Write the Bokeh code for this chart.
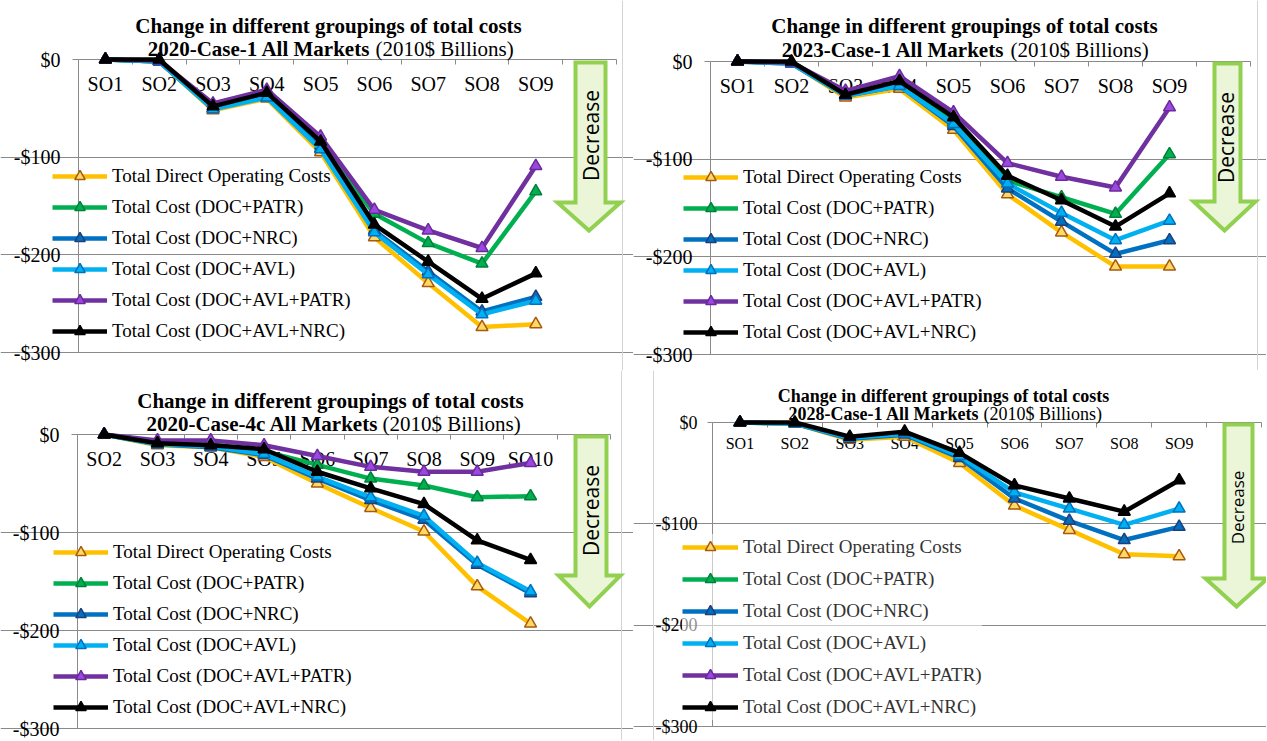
import math
from bokeh.plotting import figure
from bokeh.layouts import column, row
from bokeh.models import FixedTicker, Legend, LegendItem, Label, PolyAnnotation, Span
from bokeh.embed import file_html
from bokeh.resources import INLINE

# ---------------- data ----------------
series_names = [
    "Total Direct Operating Costs",
    "Total Cost (DOC+PATR)",
    "Total Cost (DOC+NRC)",
    "Total Cost (DOC+AVL)",
    "Total Cost (DOC+AVL+PATR)",
    "Total Cost (DOC+AVL+NRC)",
]
y_ticks = [-300, -200, -100, 0]
y_tick_labels = ["-$300", "-$200", "-$100", "$0"]
NAN = float("nan")

# Panel 1: 2020-Case-1 All Markets
cats_1 = ["SO1", "SO2", "SO3", "SO4", "SO5", "SO6", "SO7", "SO8", "SO9"]
p1_doc = [0, -2, -52, -40, -95, -182, -229, -274, -271]
p1_patr = [0, -2, -50, -37, -88, -158, -188, -209, -135]
p1_nrc = [0, -2, -50, -38, -91, -175, -217, -258, -243]
p1_avl = [0, -2, -51, -39, -92, -177, -220, -261, -247]
p1_avl_patr = [0, -1, -45, -31, -79, -154, -175, -193, -109]
p1_avl_nrc = [0, 0, -48, -34, -84, -169, -207, -245, -219]

# Panel 2: 2023-Case-1 All Markets
cats_2 = ["SO1", "SO2", "SO3", "SO4", "SO5", "SO6", "SO7", "SO8", "SO9"]
p2_doc = [0, -2, -37, -28, -70, -136, -175, -210, -210]
p2_patr = [0, -1, -34, -24, -62, -122, -139, -156, -95]
p2_nrc = [0, -2, -35, -25, -66, -130, -164, -197, -183]
p2_avl = [0, -2, -35, -25, -64, -125, -155, -183, -163]
p2_avl_patr = [0, -1, -30, -15, -52, -104, -118, -129, -47]
p2_avl_nrc = [0, 0, -34, -20, -57, -117, -142, -169, -135]

# Panel 3: 2020-Case-4c All Markets
cats_3 = ["SO2", "SO3", "SO4", "SO5", "SO6", "SO7", "SO8", "SO9", "SO10"]
p3_doc = [0, -11, -13, -23, -50, -75, -99, -155, -193]
p3_patr = [0, -8, -10, -17, -31, -45, -52, -64, -63]
p3_nrc = [0, -10, -13, -21, -45, -67, -87, -133, -162]
p3_avl = [0, -10, -12, -20, -43, -64, -83, -131, -160]
p3_avl_patr = [0, -6, -6, -11, -22, -33, -38, -38, -29]
p3_avl_nrc = [0, -9, -11, -15, -38, -55, -71, -108, -128]

# Panel 4: 2028-Case-1 All Markets (PATR series not plotted in the source)
cats_4 = ["SO1", "SO2", "SO3", "SO4", "SO5", "SO6", "SO7", "SO8", "SO9"]
p4_doc = [0, -1, -17, -14, -40, -82, -106, -130, -132]
p4_patr = [NAN] * 9
p4_nrc = [0, -1, -16, -12, -35, -75, -97, -116, -103]
p4_avl = [0, -1, -15, -11, -33, -69, -85, -101, -85]
p4_avl_patr = [NAN] * 9
p4_avl_nrc = [0, 0, -14, -9, -30, -62, -75, -88, -57]

# ---------------- styles ----------------
LINE_COLORS = ["#FFC000", "#00B050", "#0070C0", "#00B0F0", "#7030A0", "#000000"]
MARK_FILL = ["#FFD966", "#00B050", "#0070C0", "#00B0F0", "#9A48E0", "#000000"]
MARK_LINE = ["#A8590C", "#00803A", "#1F3F7A", "#0070C0", "#6A2A9A", "#000000"]
GRID = "#8A8A8A"
SERIF = "Liberation Serif"


def make_panel(cats, series, case_text, cfg):
    W, H = cfg["w"], cfg["h"]
    L, T, FW, FH = cfg["plot"]          # plot area inside the canvas (px)
    slot = FW / 10.0
    upp = 300.0 / FH                    # value units per pixel
    x0 = 0.5 - L / slot
    x1 = 10.5 + (W - L - FW) / slot
    y1 = T * upp
    y0 = -300.0 - (H - T - FH) * upp

    def dx(px):
        return x0 + px / W * (x1 - x0)

    def dy(py):
        return y1 - py / H * (y1 - y0)

    p = figure(width=W, height=H, x_range=(x0, x1), y_range=(y0, y1),
               x_axis_location="above", output_backend="svg", toolbar_location=None,
               min_border_left=0, min_border_right=0, min_border_top=0, min_border_bottom=0,
               min_border=0)
    p.outline_line_color = None
    p.background_fill_color = "white"
    p.border_fill_color = "white"

    # faint chart-area border lines
    for bx in cfg["vborders"]:
        p.add_layout(Span(location=dx(bx), dimension="height", line_color="#D4D4D4",
                          line_width=1, level="underlay"))

    xs = list(range(1, len(cats) + 1))
    # category axis running along the zero line
    xa = p.xaxis[0]
    xa.fixed_location = 0
    xa.bounds = (0.5, 10.5)
    xa.ticker = FixedTicker(ticks=xs, minor_ticks=[i + 0.5 for i in range(0, 11)])
    xa.major_label_overrides = {x: c for x, c in zip(xs, cats)}
    xa.major_tick_in = 0
    xa.major_tick_out = 0
    xa.minor_tick_in = 5
    xa.minor_tick_out = 0
    xa.minor_tick_line_color = GRID
    xa.axis_line_color = GRID
    xa.major_label_standoff = cfg["xstand"]
    xa.major_label_text_font = SERIF
    xa.major_label_text_font_size = cfg["xfs"]
    xa.major_label_text_color = "black"
    xa.level = "underlay"
    p.xgrid.visible = False

    ya = p.yaxis[0]
    ya.fixed_location = 0.5
    ya.bounds = (-300, 0)
    ya.ticker = FixedTicker(ticks=y_ticks)
    ya.major_label_overrides = {t: l for t, l in zip(y_ticks, y_tick_labels)}
    ya.major_tick_out = cfg["ytick"]
    ya.major_tick_in = 0
    ya.minor_tick_out = 0
    ya.minor_tick_in = 0
    ya.major_tick_line_color = GRID
    ya.axis_line_color = GRID
    ya.major_label_standoff = cfg["ystand"]
    ya.major_label_text_font = SERIF
    ya.major_label_text_font_size = cfg["yfs"]
    ya.major_label_text_color = "black"
    p.ygrid.ticker = FixedTicker(ticks=[-300, -200, -100])
    p.ygrid.bounds = (0.5, 10.5)
    p.ygrid.grid_line_color = GRID
    p.ygrid.grid_line_width = 1

    items = []
    for i, (name, vals) in enumerate(zip(series_names, series)):
        xv = xs[:len(vals)]
        lr = p.line(xv, vals, line_width=4.5, line_color=LINE_COLORS[i], line_join="round")
        sr = p.scatter(xv, vals, marker="triangle", size=12, fill_color=MARK_FILL[i],
                       line_color=MARK_LINE[i], line_width=1.5)
        items.append(LegendItem(label=name, renderers=[lr, sr]))

    leg = Legend(items=items, location=cfg["leg"], padding=0, margin=0,
                 glyph_width=cfg["gw"], glyph_height=26, label_height=26,
                 spacing=cfg["lsp"], label_standoff=5,
                 border_line_alpha=0, background_fill_color="white",
                 background_fill_alpha=cfg["lbg"],
                 label_text_font=SERIF, label_text_font_size="19px",
                 label_text_color=cfg["lcol"])
    p.add_layout(leg)

    # "Decrease" block arrow (geometry measured in canvas pixels)
    sl, sr_, hl, hr, top, sb, tip = cfg["arrow"]
    cx = (hl + hr) / 2.0
    arrow = PolyAnnotation(
        xs=[dx(sl), dx(sr_), dx(sr_), dx(hr), dx(cx), dx(hl), dx(sl)],
        ys=[dy(top), dy(top), dy(sb), dy(sb), dy(tip), dy(sb), dy(sb)],
        fill_color="#EBF6D9", fill_alpha=1.0, line_color="#92D050", line_alpha=1.0,
        line_width=4, line_join="miter")
    p.add_layout(arrow)
    tx, ty = cfg["dec"]
    p.add_layout(Label(x=dx(tx), y=dy(ty), text="Decrease", angle=math.pi / 2,
                       text_align="center", text_baseline="middle",
                       text_font="Open Sans", text_font_size=cfg["decfs"],
                       text_color="black"))

    # two-line title (second line mixes bold and regular)
    t1x, t1y, brx, rlx, t2y = cfg["title"]
    tfs = cfg["tfs"]
    p.add_layout(Label(x=dx(t1x), y=dy(t1y),
                       text="Change in different groupings of total costs",
                       text_font=SERIF, text_font_size=tfs, text_font_style="bold",
                       text_align="center", text_baseline="middle", text_color="black"))
    p.add_layout(Label(x=dx(brx), y=dy(t2y),
                       text=case_text, text_font=SERIF, text_font_size=tfs,
                       text_font_style="bold", text_align="right", text_baseline="middle",
                       text_color="black"))
    p.add_layout(Label(x=dx(rlx), y=dy(t2y),
                       text="(2010$ Billions)", text_font=SERIF, text_font_size=tfs,
                       text_align="left", text_baseline="middle", text_color="black"))
    return p


cfg1 = dict(w=633, h=370, plot=(78, 59, 538, 293), xstand=-35, xfs="20px", yfs="20px",
            ytick=6, ystand=12, leg=(52, 26), gw=55, lsp=5, lcol="black", lbg=0.0,
            arrow=(575, 605, 557, 620, 62, 202, 230), dec=(590, 135), decfs="21px",
            title=(328, 25, 370, 375, 48), tfs="21px", vborders=[622])
cfg2 = dict(w=633, h=370, plot=(77, 61, 540, 293), xstand=-35, xfs="20px", yfs="20px",
            ytick=6, ystand=12, leg=(50, 25), gw=55, lsp=5, lcol="black", lbg=0.0,
            arrow=(581, 607, 560, 622, 63, 201, 230), dec=(592, 137), decfs="21px",
            title=(331, 25, 371, 377, 49), tfs="21px", vborders=[624])
cfg3 = dict(w=633, h=370, plot=(77, 64, 533, 294), xstand=-35, xfs="20px", yfs="20px",
            ytick=6, ystand=12, leg=(53, 20), gw=55, lsp=5, lcol="black", lbg=0.0,
            arrow=(575, 606, 558, 620, 66, 205, 236), dec=(590, 140), decfs="21px",
            title=(330, 30, 378, 382, 53), tfs="21px", vborders=[621])
cfg4 = dict(w=633, h=370, plot=(79, 52, 549, 304), xstand=-29, xfs="16px", yfs="18px",
            ytick=5, ystand=10, leg=(49, 20), gw=56, lsp=6, lcol="#333333", lbg=0.55,
            arrow=(591, 619, 572, 634, 54, 208, 236), dec=(604, 137), decfs="17px",
            title=(310, 25, 346, 350, 43), tfs="18px", vborders=[20])

p1 = make_panel(cats_1, [p1_doc, p1_patr, p1_nrc, p1_avl, p1_avl_patr, p1_avl_nrc],
                "2020-Case-1 All Markets", cfg1)
p2 = make_panel(cats_2, [p2_doc, p2_patr, p2_nrc, p2_avl, p2_avl_patr, p2_avl_nrc],
                "2023-Case-1 All Markets", cfg2)
p3 = make_panel(cats_3, [p3_doc, p3_patr, p3_nrc, p3_avl, p3_avl_patr, p3_avl_nrc],
                "2020-Case-4c All Markets", cfg3)
p4 = make_panel(cats_4, [p4_doc, p4_patr, p4_nrc, p4_avl, p4_avl_patr, p4_avl_nrc],
                "2028-Case-1 All Markets", cfg4)

layout = column(row(p1, p2), row(p3, p4))
open("out.html", "w").write(file_html(layout, INLINE))
